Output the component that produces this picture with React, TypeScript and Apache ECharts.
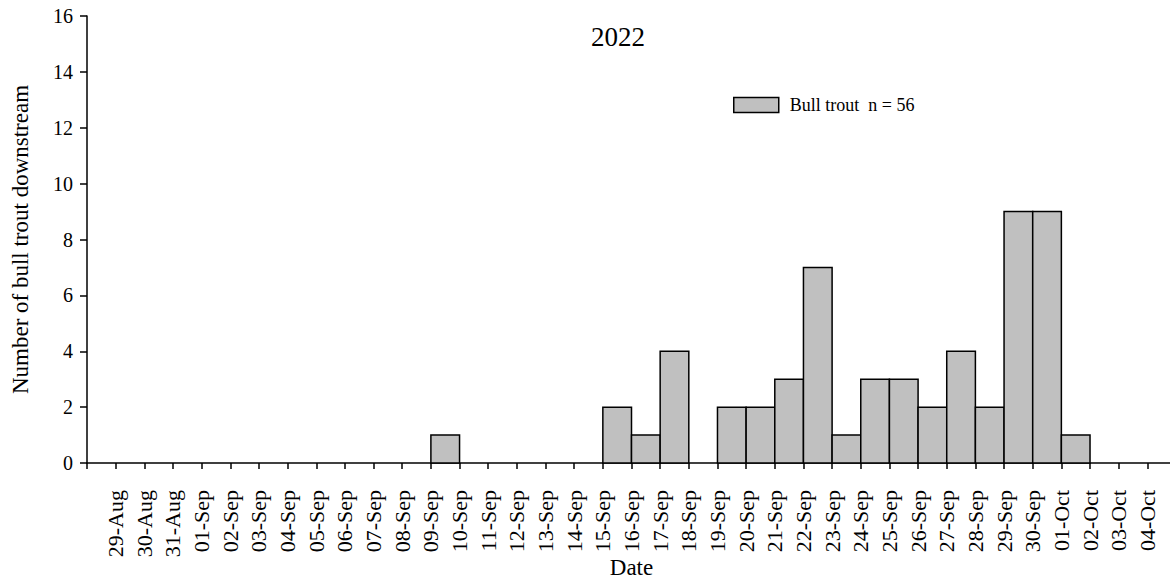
import React, { useEffect, useRef } from "react";
import * as echarts from "echarts";

const tickDates: string[] = [
  "29-Aug", "30-Aug", "31-Aug", "01-Sep", "02-Sep", "03-Sep", "04-Sep", "05-Sep",
  "06-Sep", "07-Sep", "08-Sep", "09-Sep", "10-Sep", "11-Sep", "12-Sep", "13-Sep",
  "14-Sep", "15-Sep", "16-Sep", "17-Sep", "18-Sep", "19-Sep", "20-Sep", "21-Sep",
  "22-Sep", "23-Sep", "24-Sep", "25-Sep", "26-Sep", "27-Sep", "28-Sep", "29-Sep",
  "30-Sep", "01-Oct", "02-Oct", "03-Oct", "04-Oct",
];

// count of fish for the day starting at each tick date (bin i spans tick i to tick i+1)
const dailyCounts: number[] = [
  0, 0, 0, 0, 0, 0, 0, 0, 0, 0, 0, 1, 0, 0, 0, 0, 0, 2, 1, 4, 0, 2, 2, 3, 7, 1, 3, 3, 2, 4, 2, 9, 9, 1, 0, 0,
];

const yTicks: number[] = [0, 2, 4, 6, 8, 10, 12, 14, 16];

const seriesName = "Bull trout  n = 56";
const chartTitle = "2022";
const font = "'Liberation Serif', 'Times New Roman', serif";

export default function App() {
  const ref = useRef<HTMLDivElement>(null);
  useEffect(() => {
    if (!ref.current) return;
    const chart = echarts.init(ref.current, undefined, { renderer: "svg" });
    const tickIdx = tickDates.map((_, i) => i);
    chart.setOption({
      animation: false,
      backgroundColor: "#ffffff",
      textStyle: { fontFamily: font, color: "#000" },
      title: {
        text: chartTitle,
        left: 591,
        top: 23,
        padding: 0,
        textStyle: { fontFamily: font, fontSize: 27, fontWeight: "normal", color: "#000" },
      },
      legend: {
        left: 733,
        top: 96,
        padding: 0,
        itemWidth: 45,
        itemHeight: 15,
        data: [
          {
            name: seriesName,
            icon: "rect",
            itemStyle: { color: "#c0c0c0", borderColor: "#000", borderWidth: 1.5 },
          },
        ],
        textStyle: { fontFamily: font, fontSize: 18, color: "#000", padding: [0, 0, 0, 6] },
      },
      grid: { left: 87, right: 0, top: 16, bottom: 119, containLabel: false, outerBoundsMode: "none" },
      xAxis: {
        type: "value",
        min: -1,
        max: 37,
        interval: 1,
        name: "Date",
        nameLocation: "middle",
        nameGap: 93,
        nameMoveOverlap: false,
        nameTextStyle: { fontFamily: font, fontSize: 23, color: "#000" },
        splitLine: { show: false },
        axisLine: { show: true, onZero: false, lineStyle: { color: "#000", width: 1.5 } },
        axisTick: {
          show: true,
          inside: false,
          length: 6,
          lineStyle: { color: "#000", width: 1.5 },
        },
        axisLabel: {
          customValues: tickIdx,
          rotate: 90,
          margin: 14,
          padding: [0, 13, 0, 0],
          fontFamily: font,
          fontSize: 22,
          color: "#000",
          formatter: (v: number) => tickDates[Math.round(v)] ?? "",
        },
      },
      yAxis: {
        type: "value",
        min: 0,
        max: 16,
        interval: 2,
        name: "Number of bull trout downstream",
        nameLocation: "middle",
        nameGap: 55,
        nameMoveOverlap: false,
        nameTextStyle: { fontFamily: font, fontSize: 23, color: "#000" },
        splitLine: { show: false },
        axisLine: { show: true, onZero: false, lineStyle: { color: "#000", width: 1.5 } },
        axisTick: { show: true, length: 7, lineStyle: { color: "#000", width: 1.5 } },
        axisLabel: {
          margin: 14,
          fontFamily: font,
          fontSize: 20,
          color: "#000",
          formatter: (v: number) => (yTicks.includes(v) ? String(v) : ""),
        },
      },
      series: [
        {
          name: seriesName,
          type: "custom",
          itemStyle: { color: "#c0c0c0", borderColor: "#000", borderWidth: 1.5 },
          renderItem: (params: any, api: any) => {
            const i = api.value(0);
            const v = api.value(1);
            if (!v) return null;
            const p0 = api.coord([i, v]);
            const p1 = api.coord([i + 1, 0]);
            return {
              type: "rect",
              shape: { x: p0[0], y: p0[1], width: p1[0] - p0[0], height: p1[1] - p0[1] },
              style: { fill: "#c0c0c0", stroke: "#000", lineWidth: 1.5 },
            };
          },
          encode: { x: 0, y: 1 },
          data: dailyCounts.map((v, i) => [i, v]),
        },
      ],
    });
    return () => chart.dispose();
  }, []);
  return (
    <div style={{ position: "absolute", left: 0, top: 0, width: 1170, height: 582, overflow: "hidden" }}>
      <div ref={ref} style={{ width: 1176, height: 582 }} />
    </div>
  );
}
